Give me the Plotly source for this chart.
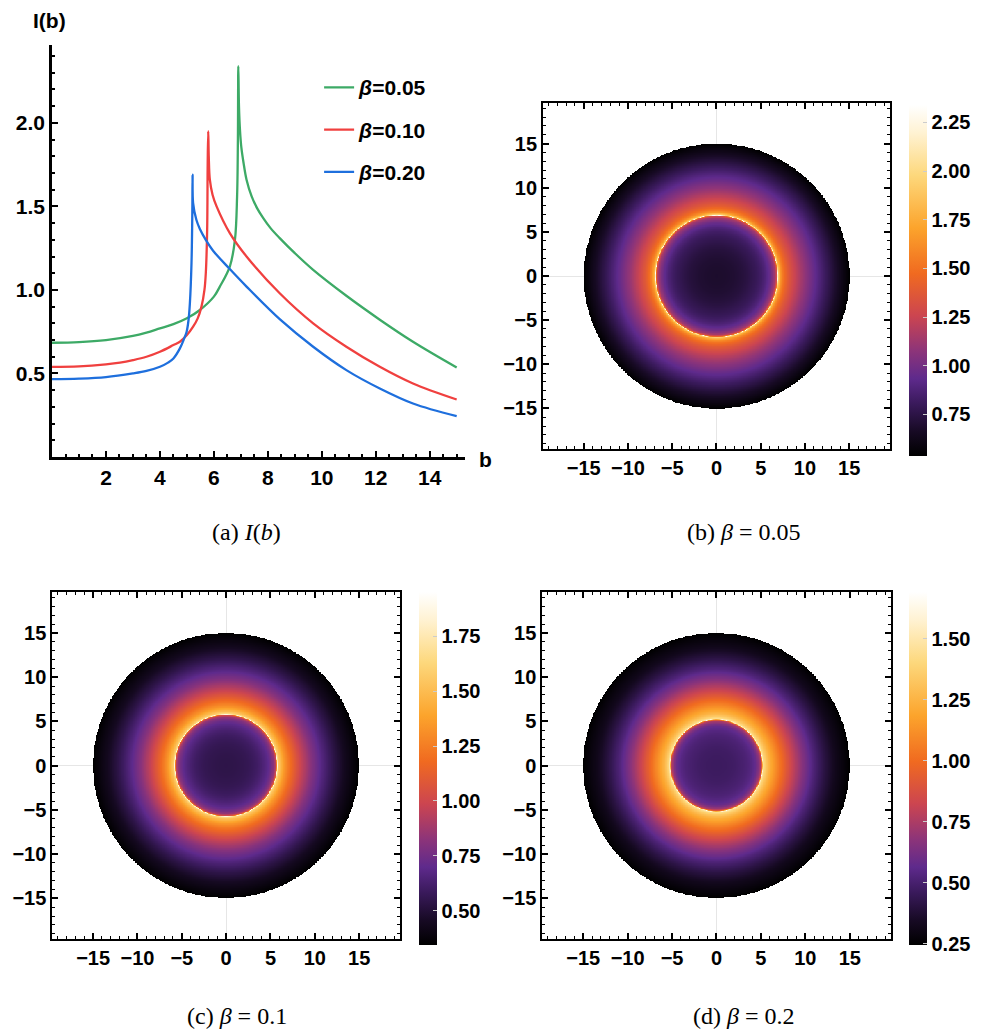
import numpy as np
import plotly.graph_objects as go

# ---------------- data ----------------
b_005 = [0, 1, 2, 3, 3.5, 4, 4.5, 5.0, 5.48, 6.0, 6.22, 6.59, 6.78, 6.86, 6.89, 6.905, 6.93, 6.97, 7.02, 7.1, 7.21, 7.4, 7.6, 7.83, 8.1, 8.44, 9.0, 9.68, 10.91, 12.15, 13.38, 15.0]
I_005 = [0.684, 0.688, 0.70, 0.725, 0.745, 0.77, 0.795, 0.83, 0.88, 0.96, 1.02, 1.14, 1.30, 1.56, 1.90, 2.34, 2.10, 1.95, 1.85, 1.76, 1.66, 1.56, 1.49, 1.43, 1.37, 1.31, 1.22, 1.12, 0.965, 0.822, 0.69, 0.536]

b_010 = [0, 1, 2, 2.52, 3, 3.5, 4, 4.5, 4.74, 5.0, 5.23, 5.4, 5.54, 5.65, 5.70, 5.75, 5.77, 5.79, 5.81, 5.85, 5.95, 6.1, 6.59, 7.21, 8.44, 9.68, 10.91, 12.15, 13.38, 15.0]
I_010 = [0.54, 0.543, 0.555, 0.565, 0.58, 0.60, 0.63, 0.67, 0.69, 0.73, 0.78, 0.83, 0.90, 1.0, 1.10, 1.36, 1.76, 1.95, 1.80, 1.66, 1.57, 1.50, 1.34, 1.20, 0.98, 0.80, 0.66, 0.54, 0.44, 0.344]

b_020 = [0, 1, 2, 3, 3.5, 4, 4.3, 4.5, 4.74, 4.9, 4.99, 5.06, 5.11, 5.17, 5.2, 5.21, 5.23, 5.35, 5.48, 5.7, 5.97, 6.59, 7.21, 8.44, 9.68, 10.91, 12.15, 13.38, 15.0]
I_020 = [0.466, 0.469, 0.478, 0.50, 0.515, 0.54, 0.565, 0.59, 0.65, 0.71, 0.75, 0.82, 0.92, 1.16, 1.46, 1.69, 1.52, 1.42, 1.365, 1.30, 1.235, 1.125, 1.02, 0.825, 0.66, 0.52, 0.41, 0.32, 0.244]

beta_labels = ["0.05", "0.10", "0.20"]
line_colors = ["#3daa66", "#f0403f", "#1e6fdd"]

x_ticks_a = [2, 4, 6, 8, 10, 12, 14]
y_ticks_a = [0.5, 1.0, 1.5, 2.0]
y_ticktext_a = ["0.5", "1.0", "1.5", "2.0"]

xy_ticks_map = [-15, -10, -5, 0, 5, 10, 15]
xy_ticktext_map = ["\u221215", "\u221210", "\u22125", "0", "5", "10", "15"]
disk_radius = 15
map_extent = 19.6

captions = ["(a)&nbsp;<i>I</i>(<i>b</i>)", "(b)&nbsp;<i>\u03b2</i>&nbsp;=&nbsp;0.05",
            "(c)&nbsp;<i>\u03b2</i>&nbsp;=&nbsp;0.1", "(d)&nbsp;<i>\u03b2</i>&nbsp;=&nbsp;0.2"]

sunset = [[0.0, "#000000"], [0.07, "#170a24"], [0.15, "#3a1a5c"], [0.22, "#5e2a8c"],
          [0.30, "#8d3479"], [0.40, "#cc4550"], [0.52, "#f06a20"], [0.65, "#fca42c"],
          [0.80, "#fdd87c"], [0.92, "#fff2d2"], [1.0, "#ffffff"]]

FONT = "Liberation Sans"
profiles = [(b_005, I_005), (b_010, I_010), (b_020, I_020)]

fig = go.Figure()

# ---- panel (a): line plot ----
for (bb, ii), lab, col in zip(profiles, beta_labels, line_colors):
    fig.add_trace(go.Scatter(x=bb, y=ii, mode="lines", name="<i>\u03b2</i>=" + lab,
                             line=dict(color=col, width=2.3, shape="spline", smoothing=1.0),
                             xaxis="x", yaxis="y", legendgroup=lab))

# ---- panels (b),(c),(d): density maps ----
grid = np.linspace(-map_extent, map_extent, 501)
X, Y = np.meshgrid(grid, grid)
R = np.hypot(X, Y)
cb_specs = [
    dict(x=0.9175, y=0.7285, len=0.3398, tickvals=[0.75, 1.0, 1.25, 1.5, 1.75, 2.0, 2.25]),
    dict(x=0.4228, y=0.2559, len=0.3414, tickvals=[0.5, 0.75, 1.0, 1.25, 1.5, 1.75]),
    dict(x=0.9176, y=0.2559, len=0.3414, tickvals=[0.25, 0.5, 0.75, 1.0, 1.25, 1.5]),
]
axes_ids = [("x2", "y2"), ("x3", "y3"), ("x4", "y4")]
for (bb, ii), spec, (xa, ya) in zip(profiles, cb_specs, axes_ids):
    Z = np.interp(R, bb, ii)
    Z = np.where(R <= disk_radius, np.round(Z, 4), np.nan)
    fig.add_trace(go.Heatmap(
        x=grid, y=grid, z=Z, xaxis=xa, yaxis=ya, colorscale=sunset,
        zmin=min(ii), zmax=max(ii), showscale=True, hoverinfo="skip",
        colorbar=dict(x=spec["x"], xanchor="left", y=spec["y"], yanchor="middle",
                      len=spec["len"], lenmode="fraction", thickness=18, xpad=0, ypad=0,
                      outlinewidth=0, ticks="inside", ticklen=4, tickcolor="#cccccc",
                      tickvals=spec["tickvals"],
                      ticktext=["%.2f" % v for v in spec["tickvals"]],
                      tickfont=dict(family=FONT, size=20, color="black", weight="bold"))))

axis_font = dict(family=FONT, size=21, color="black", weight="bold")

layout = dict(
    width=991, height=1033, margin=dict(l=0, r=0, t=0, b=0),
    paper_bgcolor="white", plot_bgcolor="white", showlegend=True,
    legend=dict(x=0.322, y=0.935, xanchor="left", yanchor="top", bgcolor="rgba(0,0,0,0)",
                font=dict(family=FONT, size=21, color="black", weight="bold"),
                tracegroupgap=12, itemwidth=30),
    xaxis=dict(domain=[0.0525, 0.469], range=[0, 15.3], anchor="y", showline=True,
               linewidth=2.5, linecolor="black", ticks="inside", ticklen=6, tickwidth=2,
               tickcolor="black", tickvals=x_ticks_a, showgrid=False, zeroline=False,
               tickfont=axis_font,
               minor=dict(dtick=0.5, tick0=0, ticks="inside", ticklen=3, tickwidth=1.5,
                          tickcolor="black", showgrid=False)),
    yaxis=dict(domain=[0.5576, 0.9564], range=[0, 2.466], anchor="x", showline=True,
               linewidth=2.5, linecolor="black", ticks="inside", ticklen=6, tickwidth=2,
               tickcolor="black", tickvals=y_ticks_a, ticktext=y_ticktext_a,
               showgrid=False, zeroline=False, tickfont=axis_font,
               minor=dict(dtick=0.1, tick0=0, ticks="inside", ticklen=3, tickwidth=1.5,
                          tickcolor="black", showgrid=False)),
)

map_domains = [([0.548, 0.898], [0.5653, 0.9003]),
               ([0.0528, 0.4036], [0.0910, 0.4266]),
               ([0.5472, 0.8988], [0.0910, 0.4266])]
for k, (dx, dy) in enumerate(map_domains, start=2):
    common = dict(range=[-map_extent, map_extent], showline=True, mirror="ticks",
                  linewidth=2, linecolor="black", ticks="inside", ticklen=6, tickwidth=1.5,
                  tickcolor="black", tickvals=xy_ticks_map, ticktext=xy_ticktext_map,
                  showgrid=False, zeroline=True, zerolinecolor="#e6e6e6", zerolinewidth=1,
                  tickfont=dict(family=FONT, size=20, color="black", weight="bold"),
                  minor=dict(dtick=1, tick0=0, ticks="inside", ticklen=3, tickwidth=1,
                             tickcolor="black", showgrid=False))
    layout["xaxis%d" % k] = dict(domain=dx, anchor="y%d" % k, **common)
    layout["yaxis%d" % k] = dict(domain=dy, anchor="x%d" % k, **common)

fig.update_layout(**layout)

# axis labels for panel (a)
fig.add_annotation(x=49 / 991, y=1 - 20 / 1033, xref="paper", yref="paper", text="<b>I(b)</b>",
                   xanchor="center", yanchor="middle", showarrow=False,
                   font=dict(family=FONT, size=21, color="black"))
fig.add_annotation(x=485 / 991, y=1 - 459 / 1033, xref="paper", yref="paper", text="<b>b</b>",
                   xanchor="center", yanchor="middle", showarrow=False,
                   font=dict(family=FONT, size=21, color="black"))

# captions
cap_pos = [(246, 532), (743, 532), (237, 1016), (743, 1016)]
for txt, (cx, cy) in zip(captions, cap_pos):
    fig.add_annotation(x=cx / 991, y=1 - cy / 1033, xref="paper", yref="paper", text=txt,
                       xanchor="center", yanchor="middle", showarrow=False,
                       font=dict(family="Liberation Serif", size=24, color="black"))

fig.write_html("out.html", config={"displayModeBar": False},
               post_script="document.body.style.margin='0px';")
